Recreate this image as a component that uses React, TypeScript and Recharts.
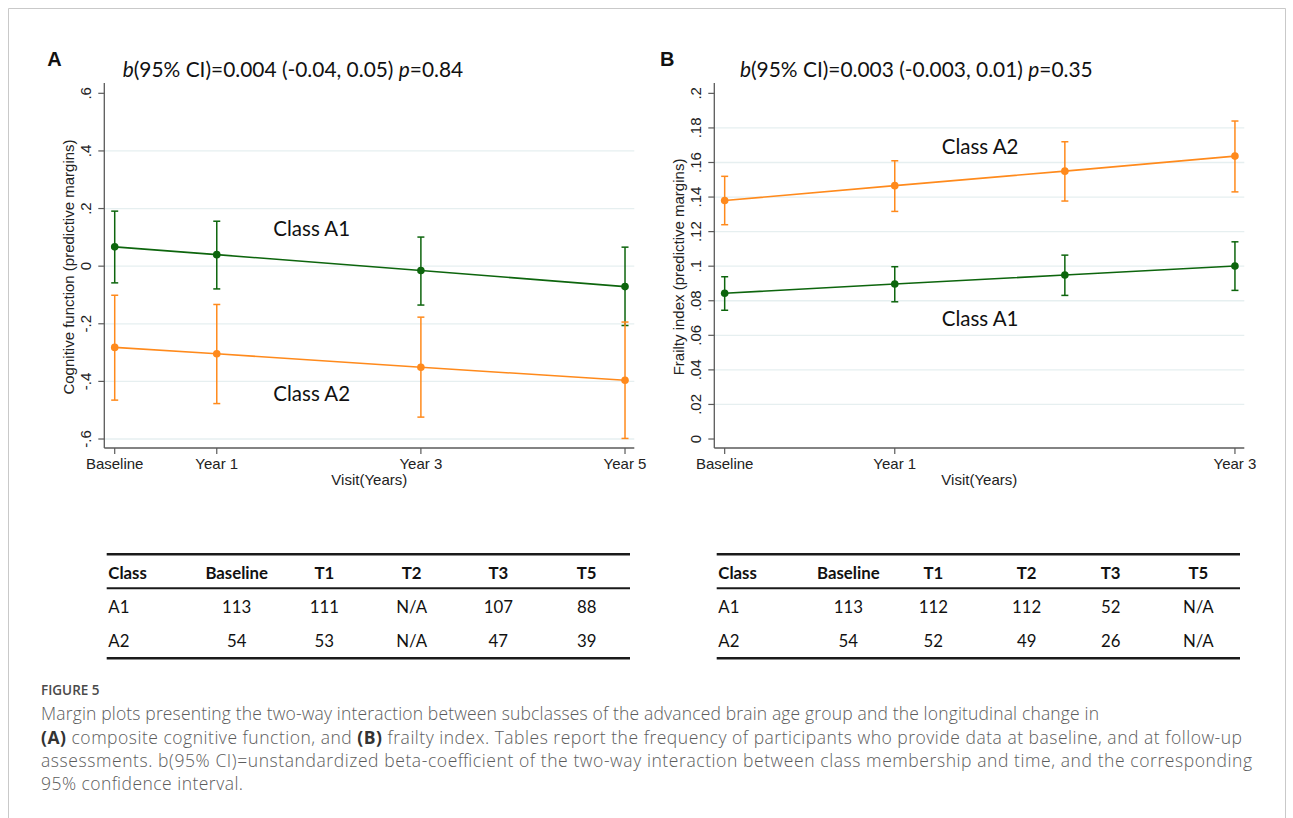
import React from 'react';
import { LineChart, Line, XAxis, YAxis, ErrorBar, ReferenceLine } from 'recharts';

// ---------- DATA ----------
const visitsA = [0, 1, 3, 5];
const visitLabelsA = ['Baseline', 'Year 1', 'Year 3', 'Year 5'];
const cogA1 = [0.067, 0.040, -0.015, -0.071];
const cogA1Lo = [-0.058, -0.079, -0.135, -0.206];
const cogA1Hi = [0.191, 0.156, 0.101, 0.066];
const cogA2 = [-0.282, -0.304, -0.351, -0.396];
const cogA2Lo = [-0.465, -0.477, -0.524, -0.598];
const cogA2Hi = [-0.101, -0.133, -0.177, -0.194];
const yTicksA = [-0.6, -0.4, -0.2, 0, 0.2, 0.4, 0.6];
const yTickLabelsA = ['-.6', '-.4', '-.2', '0', '.2', '.4', '.6'];
const gridA = [-0.6, -0.4, -0.2, 0, 0.2, 0.4];

const visitsB = [0, 1, 2, 3];
const visitTicksB = [0, 1, 3];
const visitLabelsB = ['Baseline', 'Year 1', 'Year 3'];
const frA1 = [0.0843, 0.0897, 0.0949, 0.1001];
const frA1Lo = [0.0745, 0.0794, 0.0831, 0.086];
const frA1Hi = [0.0939, 0.0997, 0.1064, 0.1141];
const frA2 = [0.138, 0.1466, 0.155, 0.1637];
const frA2Lo = [0.124, 0.1317, 0.1377, 0.143];
const frA2Hi = [0.152, 0.161, 0.172, 0.184];
const yTicksB = [0, 0.02, 0.04, 0.06, 0.08, 0.1, 0.12, 0.14, 0.16, 0.18, 0.2];
const yTickLabelsB = ['0', '.02', '.04', '.06', '.08', '.1', '.12', '.14', '.16', '.18', '.2'];
const gridB = [0.02, 0.04, 0.06, 0.08, 0.1, 0.12, 0.14, 0.16, 0.18];

const tableHeaders = ['Class', 'Baseline', 'T1', 'T2', 'T3', 'T5'];
const tableARows = [
  ['A1', '113', '111', 'N/A', '107', '88'],
  ['A2', '54', '53', 'N/A', '47', '39'],
];
const tableBRows = [
  ['A1', '113', '112', '112', '52', 'N/A'],
  ['A2', '54', '52', '49', '26', 'N/A'],
];

const captionLines = [
  'Margin plots presenting the two-way interaction between subclasses of the advanced brain age group and the longitudinal change in',
  'assessments. b(95% CI)=unstandardized beta-coefficient of the two-way interaction between class membership and time, and the corresponding',
  '95% confidence interval.',
];

// ---------- STYLE ----------
const GREEN = '#0d650d';
const ORANGE = '#ff8a1c';
const AXIS = '#5a5a5a';
const GRID = '#e6eff0';
const F_ARIAL = '"Liberation Sans", Arial, sans-serif';
const F_CAL = 'Lato, "Open Sans", sans-serif';
const F_CAP = '"Open Sans", sans-serif';

const buildRows = (xs, g, gLo, gHi, o, oLo, oHi) =>
  xs.map((x, i) => ({
    x,
    g: g[i],
    gErr: [g[i] - gLo[i], gHi[i] - g[i]],
    o: o[i],
    oErr: [o[i] - oLo[i], oHi[i] - o[i]],
  }));

const rowsA = buildRows(visitsA, cogA1, cogA1Lo, cogA1Hi, cogA2, cogA2Lo, cogA2Hi);
const rowsB = buildRows(visitsB, frA1, frA1Lo, frA1Hi, frA2, frA2Lo, frA2Hi);

function RotTick(props) {
  const { x, y, payload, labels, ticks } = props;
  const i = ticks.findIndex((t) => Math.abs(t - payload.value) < 1e-9);
  return (
    <text
      transform={`translate(${x - 5.5},${y}) rotate(-90)`}
      textAnchor="middle"
      fontSize={15}
      fill="#222"
      fontFamily={F_ARIAL}
    >
      {labels[i]}
    </text>
  );
}

function Panel({ left, rows, xDomain, xTicks, xLabels, yDomain, yTicks, yLabels, grid, yTitle }) {
  return (
    <div style={{ position: 'absolute', left, top: 0 }}>
      <LineChart width={660} height={500} data={rows} margin={{ top: 83, right: 25.7, left: 0, bottom: 0 }}>
        {grid.map((v) => (
          <ReferenceLine key={v} y={v} stroke={GRID} strokeWidth={1.3} />
        ))}
        <XAxis
          type="number"
          dataKey="x"
          domain={xDomain}
          ticks={xTicks}
          interval={0}
          allowDataOverflow
          tickFormatter={(v) => xLabels[xTicks.indexOf(v)]}
          height={52}
          tickSize={6}
          tickMargin={4}
          axisLine={{ stroke: AXIS, strokeWidth: 1.3 }}
          tickLine={{ stroke: AXIS, strokeWidth: 1.2 }}
          tick={{ fill: '#222', fontSize: 15, fontFamily: F_ARIAL }}
          label={{
            content: () => (
              <text x={369.3} y={484.5} textAnchor="middle" fontSize={15} fill="#222" fontFamily={F_ARIAL}>
                Visit(Years)
              </text>
            ),
          }}
        />
        <YAxis
          type="number"
          domain={yDomain}
          ticks={yTicks}
          interval={0}
          allowDataOverflow
          width={104.3}
          tickSize={6}
          tickMargin={2}
          axisLine={{ stroke: AXIS, strokeWidth: 1.3 }}
          tickLine={{ stroke: AXIS, strokeWidth: 1.2 }}
          tick={(p) => <RotTick {...p} labels={yLabels} ticks={yTicks} />}
          label={{
            content: () => (
              <text
                transform={`translate(73.5,267) rotate(-90)`}
                textAnchor="middle"
                fontSize={15}
                fill="#222"
                fontFamily={F_ARIAL}
              >
                {yTitle}
              </text>
            ),
          }}
        />
        <Line
          dataKey="g"
          stroke={GREEN}
          strokeWidth={1.6}
          dot={{ r: 3.8, fill: GREEN, stroke: GREEN, strokeWidth: 0 }}
          activeDot={false}
          isAnimationActive={false}
        >
          <ErrorBar dataKey="gErr" width={3.5} strokeWidth={1.5} stroke={GREEN} direction="y" isAnimationActive={false} />
        </Line>
        <Line
          dataKey="o"
          stroke={ORANGE}
          strokeWidth={1.6}
          dot={{ r: 3.8, fill: ORANGE, stroke: ORANGE, strokeWidth: 0 }}
          activeDot={false}
          isAnimationActive={false}
        >
          <ErrorBar dataKey="oErr" width={3.5} strokeWidth={1.5} stroke={ORANGE} direction="y" isAnimationActive={false} />
        </Line>
      </LineChart>
    </div>
  );
}

function Table({ left, rows, centers }) {
  const width = 523.3;
  const rowYs = [612.7, 647.3];
  return (
    <g fontFamily={F_CAL} fontSize={16.8} fill="#111">
      <line x1={left} x2={left + width} y1={554.3} y2={554.3} stroke="#1a1a1a" strokeWidth={2.6} />
      <line x1={left} x2={left + width} y1={588.3} y2={588.3} stroke="#1a1a1a" strokeWidth={2} />
      <line x1={left} x2={left + width} y1={658.3} y2={658.3} stroke="#1a1a1a" strokeWidth={2.6} />
      {tableHeaders.map((h, i) => (
        <text
          key={h}
          x={i === 0 ? left + 1.6 : left + centers[i - 1]}
          y={579.3}
          textAnchor={i === 0 ? 'start' : 'middle'}
          fontWeight={700}
        >
          {h}
        </text>
      ))}
      {rows.map((r, ri) =>
        r.map((c, ci) => (
          <text
            key={`${ri}-${ci}`}
            x={ci === 0 ? left + 1.6 : left + centers[ci - 1]}
            y={rowYs[ri]}
            textAnchor={ci === 0 ? 'start' : 'middle'}
          >
            {c}
          </text>
        ))
      )}
    </g>
  );
}

export default function App() {
  return (
    <div style={{ position: 'absolute', left: 0, top: 0, width: 1293, height: 818, background: '#fff', fontFamily: F_ARIAL }}>
      <Panel
        left={0}
        rows={rowsA}
        xDomain={[-0.102, 5.091]}
        xTicks={visitsA}
        xLabels={visitLabelsA}
        yDomain={[-0.6312, 0.6358]}
        yTicks={yTicksA}
        yLabels={yTickLabelsA}
        grid={gridA}
        yTitle="Cognitive function (predictive margins)"
      />
      <Panel
        left={610}
        rows={rowsB}
        xDomain={[-0.061, 3.055]}
        xTicks={visitTicksB}
        xLabels={visitLabelsB}
        yDomain={[-0.0052, 0.206]}
        yTicks={yTicksB}
        yLabels={yTickLabelsB}
        grid={gridB}
        yTitle="Frailty index (predictive margins)"
      />
      <svg width={1293} height={818} style={{ position: 'absolute', left: 0, top: 0, pointerEvents: 'none' }}>
        <line x1={8.5} x2={1285.5} y1={8.5} y2={8.5} stroke="#c9c9c9" strokeWidth={1} />
        <line x1={8.5} x2={8.5} y1={8.5} y2={818} stroke="#c9c9c9" strokeWidth={1} />
        <line x1={1285.5} x2={1285.5} y1={8.5} y2={818} stroke="#c9c9c9" strokeWidth={1} />

        <text x={47.3} y={66} fontFamily={F_ARIAL} fontWeight={700} fontSize={20} fill="#111">A</text>
        <text x={660} y={66} fontFamily={F_ARIAL} fontWeight={700} fontSize={20} fill="#111">B</text>

        <text x={122.7} y={76.7} fontFamily={F_CAL} fontSize={20.9} fill="#111">
          <tspan fontStyle="italic">b</tspan>(95% CI)=0.004 (-0.04, 0.05) <tspan fontStyle="italic">p</tspan>=0.84
        </text>
        <text x={740} y={76.7} fontFamily={F_CAL} fontSize={20.9} fill="#111">
          <tspan fontStyle="italic">b</tspan>(95% CI)=0.003 (-0.003, 0.01) <tspan fontStyle="italic">p</tspan>=0.35
        </text>

        <g fontFamily={F_CAL} fontSize={20.5} fill="#111">
          <text x={273.3} y={236}>Class A1</text>
          <text x={273.3} y={400.7}>Class A2</text>
          <text x={941.7} y={154.3}>Class A2</text>
          <text x={941.7} y={326}>Class A1</text>
        </g>

        <Table left={106.7} rows={tableARows} centers={[130, 217.6, 305, 391.6, 480]} />
        <Table left={716.7} rows={tableBRows} centers={[131.6, 216.6, 310, 394, 481.6]} />

        <g fontFamily={F_CAP} fill="#5c5c5c">
          <text x={41} y={695} fontSize={13.5} fontWeight={600} fill="#4a4a4a">FIGURE 5</text>
          <text x={41} y={720} fontSize={17.5} fontWeight={300} textLength={1058} lengthAdjust="spacing">{captionLines[0]}</text>
          <text x={41} y={743.5} fontSize={17.5} fontWeight={300} textLength={1201} lengthAdjust="spacing">
            <tspan fontWeight={700} fill="#333">(A)</tspan> composite cognitive function, and{' '}
            <tspan fontWeight={700} fill="#333">(B)</tspan> frailty index. Tables report the frequency of participants who provide data at baseline, and at follow-up
          </text>
          <text x={41} y={766.5} fontSize={17.5} fontWeight={300} textLength={1211} lengthAdjust="spacing">{captionLines[1]}</text>
          <text x={41} y={789.5} fontSize={17.5} fontWeight={300} textLength={202} lengthAdjust="spacing">{captionLines[2]}</text>
        </g>
      </svg>
    </div>
  );
}
